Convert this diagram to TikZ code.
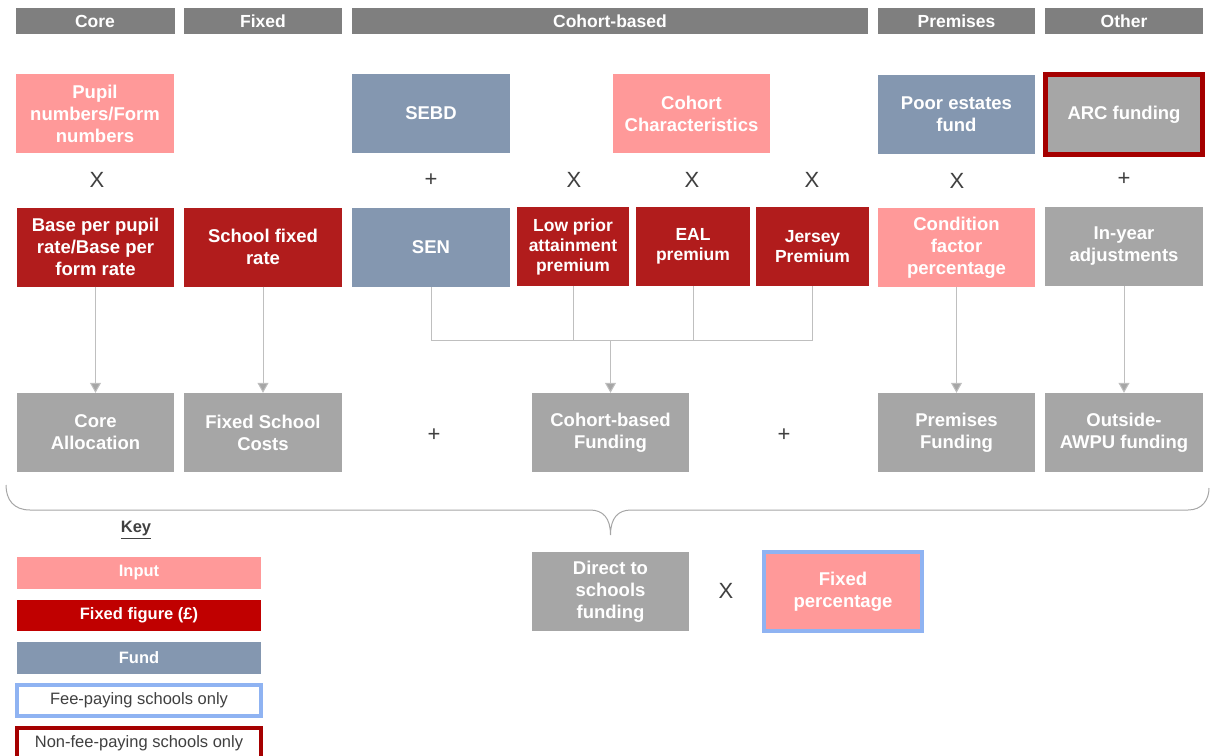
\documentclass[tikz,border=0pt]{standalone}
\usepackage{fontspec}
\setmainfont{Liberation Sans}
\usetikzlibrary{arrows.meta}

\definecolor{hdrgrey}{HTML}{7F7F7F}
\definecolor{inpink}{HTML}{FF9999}
\definecolor{fixred}{HTML}{B11C1C}
\definecolor{keyred}{HTML}{C00000}
\definecolor{fundblue}{HTML}{8497B0}
\definecolor{outgrey}{HTML}{A6A6A6}
\definecolor{linegrey}{HTML}{BFBFBF}
\definecolor{opgrey}{HTML}{404040}
\definecolor{feeblue}{HTML}{8FB3F2}
\definecolor{nonfeered}{HTML}{A50000}

\begin{document}
\begin{tikzpicture}[x=1pt,y=-1pt,
  cell/.style={rectangle,inner sep=0pt,minimum height=79pt,text=white,align=center,
    font=\fontsize{18.5}{22}\selectfont\bfseries},
  small/.style={font=\fontsize{17.5}{20}\selectfont\bfseries},
  hdr/.style={rectangle,fill=hdrgrey,inner sep=0pt,minimum height=26pt,text=white,
    font=\fontsize{17.5}{19}\selectfont\bfseries},
  keybox/.style={rectangle,inner sep=0pt,minimum width=244pt,minimum height=32pt,text=white,
    font=\fontsize{16.5}{19}\selectfont\bfseries},
  op/.style={text=opgrey,font=\fontsize{22}{24}\selectfont},
  feed/.style={draw=linegrey,line width=1pt},
  arr/.style={feed,-{Triangle[width=11pt,length=10pt,fill=outgrey]}}]
\useasboundingbox (0,0) rectangle (1210,755);

% column headers
\node[hdr,minimum width=159pt] (hcore) at (95,21) {Core};
\node[hdr,minimum width=158pt] (hfixed) at (263,21) {Fixed};
\node[hdr,minimum width=516pt] (hcohort) at (610,21) {Cohort-based};
\node[hdr,minimum width=157pt] (hprem) at (956.5,21) {Premises};
\node[hdr,minimum width=158pt] (hother) at (1124,21) {Other};

% first row
\node[cell,fill=inpink,minimum width=158pt] (pupil) at (95,113.5) {Pupil\\numbers/Form\\numbers};
\node[cell,fill=fundblue,minimum width=158pt] (sebd) at (431,113) {SEBD};
\node[cell,fill=inpink,minimum width=157pt] (cohortch) at (691.5,113.5) {Cohort\\Characteristics};
\node[cell,fill=fundblue,minimum width=157pt] (poor) at (956.5,114.5) {Poor estates\\fund};
\node[cell,fill=outgrey,draw=nonfeered,line width=5pt,minimum width=157pt,minimum height=80pt] (arc) at (1124,114.5) {ARC funding};

% operators
\node[op] (op1) at (97,180) {X};
\node[op] (op2) at (431,180) {+};
\node[op] (op3) at (574,180) {X};
\node[op] (op4) at (692,180) {X};
\node[op] (op5) at (812,180) {X};
\node[op] (op6) at (957,181) {X};
\node[op] (op7) at (1124,179) {+};

% second row
\node[cell,fill=fixred,minimum width=157pt] (base) at (95.5,247) {Base per pupil\\rate/Base per\\form rate};
\node[cell,fill=fixred,minimum width=158pt] (sfr) at (263,247) {School fixed\\rate};
\node[cell,fill=fundblue,minimum width=158pt] (sen) at (431,247.5) {SEN};
\node[cell,small,fill=fixred,minimum width=112pt] (lpa) at (573,246.5) {Low prior\\attainment\\premium};
\node[cell,small,fill=fixred,minimum width=114pt] (eal) at (693,246.5) {EAL\\premium};
\node[cell,small,fill=fixred,minimum width=113pt] (jersey) at (812.5,246.5) {Jersey\\Premium};
\node[cell,fill=inpink,minimum width=157pt] (cond) at (956.5,247.5) {Condition\\factor\\percentage};
\node[cell,fill=outgrey,minimum width=158pt] (inyear) at (1124,246.5) {In-year\\adjustments};

% third row
\node[cell,fill=outgrey,minimum width=157pt] (core) at (95.5,432.5) {Core\\Allocation};
\node[cell,fill=outgrey,minimum width=158pt] (fsc) at (263,432.5) {Fixed School\\Costs};
\node[op] (plus1) at (434,435) {+};
\node[cell,fill=outgrey,minimum width=157pt] (cbf) at (610.5,432.5) {Cohort-based\\Funding};
\node[op] (plus2) at (784,435) {+};
\node[cell,fill=outgrey,minimum width=157pt] (prem) at (956.5,432.5) {Premises\\Funding};
\node[cell,fill=outgrey,minimum width=158pt] (awpu) at (1124,432.5) {Outside-\\AWPU funding};

% connectors
\draw[arr] (base.south) -- (core.north);
\draw[arr] (sfr.south) -- (fsc.north);
\coordinate (bus) at (610.5,340);
\draw[feed] (sen.south) |- (jersey.south |- bus) -- (jersey.south);
\draw[feed] (lpa.south) -- (lpa.south |- bus);
\draw[feed] (eal.south) -- (eal.south |- bus);
\draw[arr] (bus) -- (cbf.north);
\draw[arr] (cond.south) -- (prem.north);
\draw[arr] (inyear.south) -- (awpu.north);

% brace
\draw[outgrey,line width=1pt] (6,485) .. controls (6,500) and (14,510) .. (30,510) -- (590,510)
  .. controls (603,510) and (610.5,518) .. (610.5,535)
  .. controls (610.5,518) and (618,510) .. (631,510) -- (1188,510)
  .. controls (1202,510) and (1209,500) .. (1209,488);

% result
\node[cell,fill=outgrey,minimum width=157pt] (dtsf) at (610.5,591.5) {Direct to\\schools\\funding};
\node[op] (opx) at (726,591) {X};
\node[cell,fill=inpink,draw=feeblue,line width=4pt,minimum width=158pt] (fixpct) at (843,591.5) {Fixed\\percentage};

% key
\node[text=opgrey,font=\fontsize{16.5}{19}\selectfont\bfseries] (keyhd) at (136,530) {\underline{Key}};
\node[keybox,fill=inpink] (kin) at (139,573) {Input};
\node[keybox,fill=keyred,minimum height=31pt] (kfix) at (139,615.5) {Fixed figure (£)};
\node[keybox,fill=fundblue] (kfund) at (139,658) {Fund};
\node[keybox,fill=white,draw=feeblue,line width=4pt,minimum height=31pt,text=opgrey,
  font=\fontsize{16.5}{19}\selectfont] (kfee) at (139,700.5) {Fee-paying schools only};
\node[keybox,fill=white,draw=nonfeered,line width=4pt,minimum height=31pt,text=opgrey,
  font=\fontsize{16.5}{19}\selectfont] (knon) at (139,743.5) {Non-fee-paying schools only};
\end{tikzpicture}
\end{document}
